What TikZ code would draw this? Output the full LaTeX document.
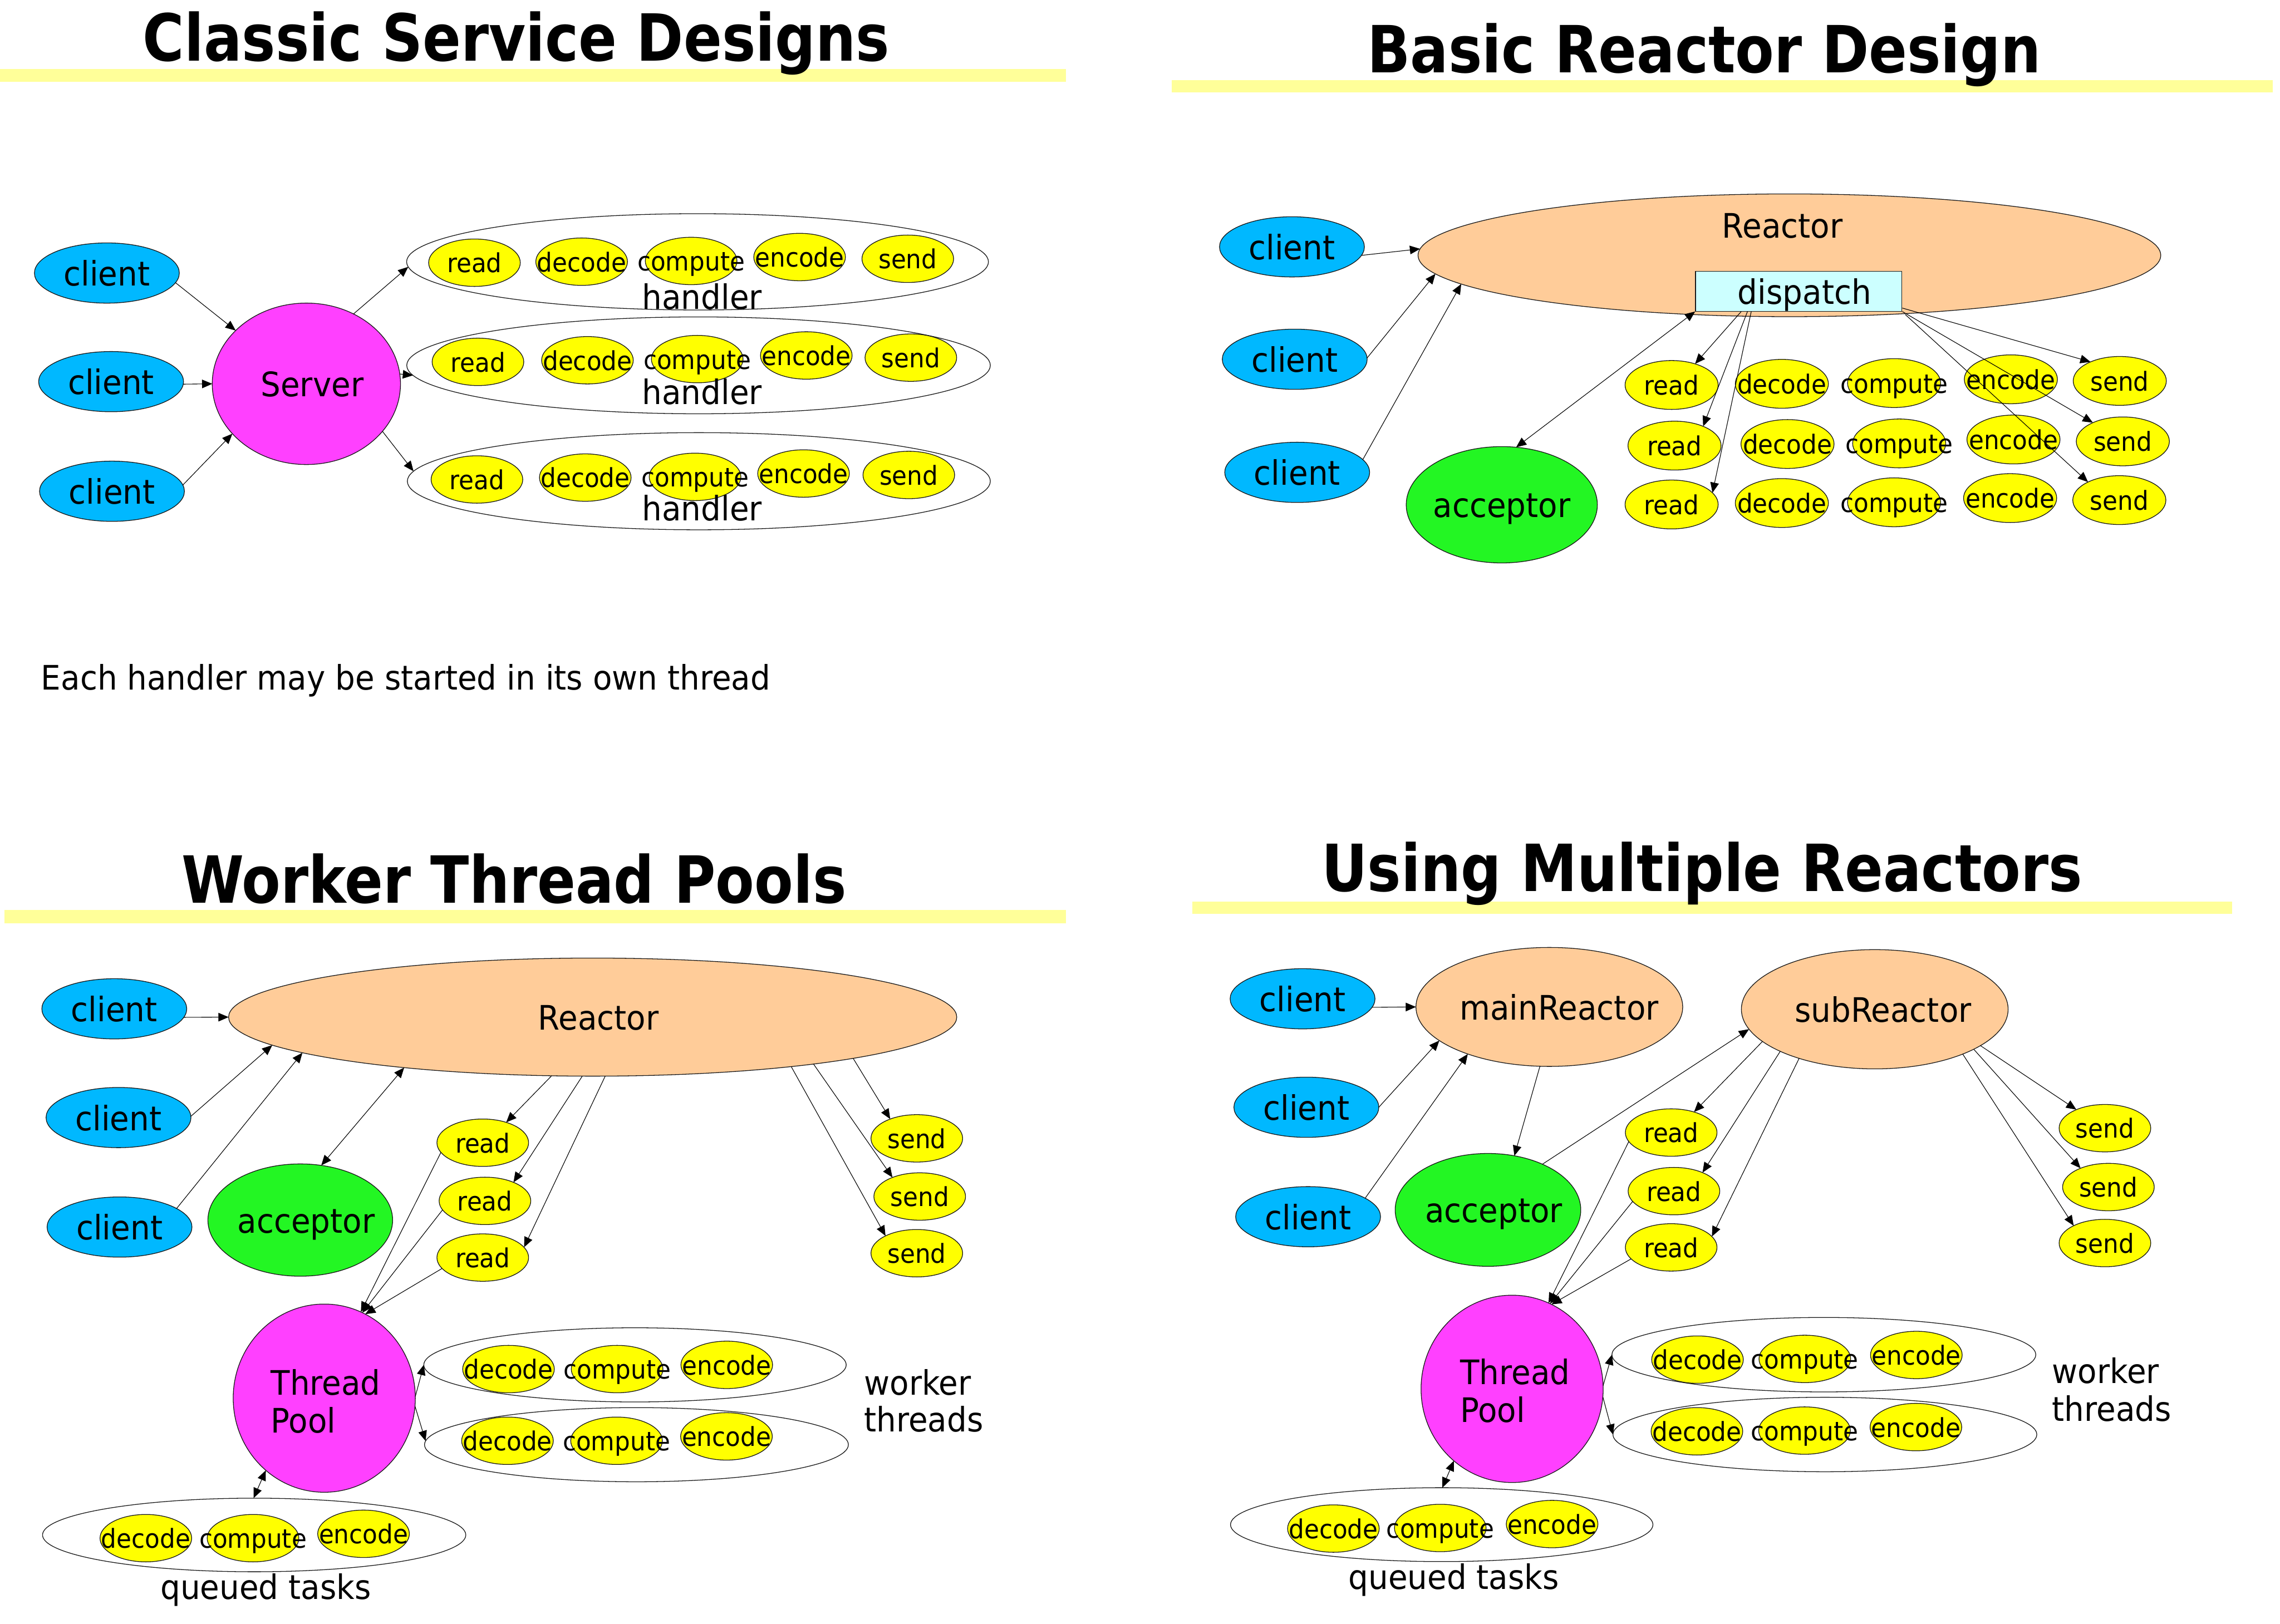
\documentclass[tikz,border=0pt]{standalone}
\usepackage{fontspec}
\setmainfont[FakeStretch=0.93]{DejaVu Sans}
\newfontfamily\titlefont[FakeStretch=0.87]{DejaVu Sans}
\usetikzlibrary{shapes.geometric,arrows.meta,calc}
\definecolor{cblue}{HTML}{00B8FF}
\definecolor{cmag}{HTML}{FF40FF}
\definecolor{cpeach}{HTML}{FFCC99}
\definecolor{cgreen}{HTML}{23F623}
\definecolor{ccyan}{HTML}{CCFFFF}
\definecolor{cbar}{HTML}{FFFF99}
\definecolor{cyel}{HTML}{FFFF00}
\newcommand{\bigtxt}{\fontsize{16.5pt}{19pt}\selectfont}
\newcommand{\smalltxt}{\fontsize{12.8pt}{15pt}\selectfont}
\newcommand{\ttltxt}{\fontsize{31.8pt}{36pt}\selectfont\titlefont\bfseries}
\newcommand{\ctxt}[1]{\makebox[0pt]{#1}}
\begin{document}
\begin{tikzpicture}[x=0.025cm,y=-0.025cm,
 el/.style 2 args={ellipse, draw=black!90, line width=0.35pt, minimum width=#1*0.05cm, minimum height=#2*0.05cm, inner sep=0pt, outer sep=0pt},
 cli/.style={el={49.8}{20.7}, fill=cblue, font=\bigtxt, text height=12.5pt, text depth=0pt},
 bignode/.style={fill=#1, font=\bigtxt, text height=12.5pt, text depth=0pt},
 yel/.style={el={31.5}{16.3}, fill=cyel, font=\smalltxt, text height=9.7pt, text depth=0pt},
 yelb/.style={el={32}{16.8}, fill=cyel, font=\smalltxt, text height=9.7pt, text depth=0pt},
 grp/.style 2 args={el={#1}{#2}, fill=white},
 big/.style={font=\bigtxt, inner sep=0pt},
 ttl/.style={font=\ttltxt, inner sep=0pt, anchor=base},
 arr/.style={-{Triangle[length=5pt,width=4.2pt]}, line width=0.3pt},
 darr/.style={{Triangle[length=5pt,width=4.2pt]}-{Triangle[length=5pt,width=4.2pt]}, line width=0.3pt},
]
\useasboundingbox (0,0) rectangle (1568,1117);
\fill[white] (0,0) rectangle (1568,1117);

% ================= Q1: Classic Service Designs =================
\fill[cbar] (0,47.3) rectangle (733,56.4);
\node[ttl] (t1) at (355,42) {Classic Service Designs};

\node[cli] (qa1) at (73.5,187.8) {\ctxt{client}};
\node[cli] (qa2) at (76.4,262.5) {\ctxt{client}};
\node[cli] (qa3) at (77,337.9) {\ctxt{client}};
\node[el={64.7}{55.5}, bignode=cmag] (srv) at (210.7,264) {\ctxt{\hspace{0.2cm}Server}};

\node[grp={200}{33.1}] (h1) at (479.7,180.1) {};
\node[grp={200.6}{33.3}] (h2) at (480.4,251.3) {};
\node[grp={200.4}{33.4}] (h3) at (480.6,331) {};

\node[yel] (a1r) at (326.3,180.7) {\ctxt{read}};
\node[yel] (a1d) at (400,180) {\ctxt{decode}};
\node[yel] (a1c) at (475.3,179.5) {\ctxt{compute}};
\node[yel] (a1e) at (549.9,176.8) {\ctxt{encode}};
\node[yel] (a1s) at (624.3,178) {\ctxt{send}};
\node[yel] (a2r) at (328.7,248.9) {\ctxt{read}};
\node[yel] (a2d) at (404,247.8) {\ctxt{decode}};
\node[yel] (a2c) at (479.5,247) {\ctxt{compute}};
\node[yel] (a2e) at (554.5,244.5) {\ctxt{encode}};
\node[yel] (a2s) at (626.4,246) {\ctxt{send}};
\node[yel] (a3r) at (328,329.8) {\ctxt{read}};
\node[yel] (a3d) at (402.5,328.5) {\ctxt{decode}};
\node[yel] (a3c) at (478,328) {\ctxt{compute}};
\node[yel] (a3e) at (552.6,325.7) {\ctxt{encode}};
\node[yel] (a3s) at (625,326.7) {\ctxt{send}};

\node[big, anchor=base] (hl1) at (482.8,212.7) {handler};
\node[big, anchor=base] (hl2) at (482.8,278) {handler};
\node[big, anchor=base] (hl3) at (482.8,358.3) {handler};

\node[big, anchor=base west] (note) at (28,474.4) {Each handler may be started in its own thread};

\draw[arr] (qa1.-8) -- (srv.143.6);
\draw[arr] (qa2.-2) -- (srv.180);
\draw[arr] (qa3.5.8) -- (srv.-146.8);
\draw[arr] (srv.56.9) -- (h1.-179.3);
\draw[arr] (srv.6.5) -- (h2.-178.4);
\draw[arr] (srv.-32.3) -- (h3.178.4);

% ================= Q2: Basic Reactor Design =================
\fill[cbar] (806,55) rectangle (1563,63.5);
\node[ttl] (t2) at (1172,50) {Basic Reactor Design};

\node[cli] (qb1) at (888.5,169.8) {\ctxt{client}};
\node[cli] (qb2) at (890.4,247.1) {\ctxt{client}};
\node[cli] (qb3) at (892.1,324.9) {\ctxt{client}};
\node[el={255.3}{42.2}, fill=cpeach] (rb) at (1230.6,175.6) {};
\node[big, anchor=base] (rbl) at (1225.8,163.7) {Reactor};
\node[draw=black!90, line width=0.35pt, fill=ccyan, minimum width=142*0.025cm, minimum height=27.3*0.025cm, inner sep=0pt, font=\bigtxt, text height=12.5pt, text depth=0pt] (disp) at (1237,200.4) {\ctxt{\hspace{0.2cm}dispatch}};
\node[el={65.7}{40}, bignode=cgreen] (accb) at (1032.8,347.2) {\ctxt{acceptor}};

\node[yelb] (b1r) at (1149.6,264.8) {\ctxt{read}};
\node[yelb] (b1d) at (1225.4,264) {\ctxt{decode}};
\node[yelb] (b1c) at (1302.6,263.5) {\ctxt{compute}};
\node[yelb] (b1e) at (1382.9,260.9) {\ctxt{encode}};
\node[yelb] (b1s) at (1457.8,262) {\ctxt{send}};
\node[yelb] (b2r) at (1151.6,306.5) {\ctxt{read}};
\node[yelb] (b2d) at (1229.3,305.4) {\ctxt{decode}};
\node[yelb] (b2c) at (1306.1,305) {\ctxt{compute}};
\node[yelb] (b2e) at (1384.7,302.3) {\ctxt{encode}};
\node[yelb] (b2s) at (1459.9,303.6) {\ctxt{send}};
\node[yelb] (b3r) at (1149.6,347) {\ctxt{read}};
\node[yelb] (b3d) at (1225.4,346) {\ctxt{decode}};
\node[yelb] (b3c) at (1302.6,345.5) {\ctxt{compute}};
\node[yelb] (b3e) at (1382.4,342.6) {\ctxt{encode}};
\node[yelb] (b3s) at (1457.5,344) {\ctxt{send}};

\draw[arr] (qb1.-7.4) -- (rb.179);
\draw[arr] (qb2.1) -- (rb.-177.2);
\draw[arr] (qb3.11.9) -- (rb.-175.6);
\draw[darr] (disp.south west) -- (accb.76.8);
\draw[arr] ($(disp.south west)+(31.7,0)$) -- (b1r.42.2);
\draw[arr] ($(disp.south west)+(36,0)$) -- (b2r.34.8);
\draw[arr] ($(disp.south west)+(38.6,0)$) -- (b3r.16.7);
\draw[arr] ($(disp.south east)+(0,-2.4)$) -- (b1s.147.3);
\draw[arr] (disp.south east) -- (b2s.148.1);
\draw[arr] ($(disp.south east)+(2,2)$) -- (b3s.150.7);

% ================= Q3: Worker Thread Pools =================
\fill[cbar] (3,626) rectangle (733,635);
\node[ttl] (t3) at (353.5,621) {Worker Thread Pools};

\node[cli] (qc1) at (78.6,693.9) {\ctxt{client}};
\node[cli] (qc2) at (81.5,768.7) {\ctxt{client}};
\node[cli] (qc3) at (82.2,844) {\ctxt{client}};
\node[el={250.3}{40.6}, bignode=cpeach] (rc) at (407.6,699.6) {\ctxt{\hspace{0.2cm}Reactor}};
\node[el={63.5}{38.6}, bignode=cgreen] (accc) at (206.5,839.2) {\ctxt{\hspace{0.2cm}acceptor}};

\node[yel] (cr1) at (332,786) {\ctxt{read}};
\node[yel] (cr2) at (333.5,826) {\ctxt{read}};
\node[yel] (cr3) at (332,865) {\ctxt{read}};
\node[yel] (cs1) at (630.5,783) {\ctxt{send}};
\node[yel] (cs2) at (632.5,823) {\ctxt{send}};
\node[yel] (cs3) at (630.5,862) {\ctxt{send}};

\node[el={62.6}{64.7}, fill=cmag] (tpc) at (223,961.7) {};
\node[big, anchor=base west] (tpc1) at (186,959.5) {Thread};
\node[big, anchor=base west] (tpc2) at (186,985.5) {Pool};

\node[grp={145.2}{25.5}] (wc1) at (436.7,938.8) {};
\node[grp={145.7}{25.5}] (wc2) at (437.7,993.7) {};
\node[yel] (cw1d) at (349.7,941.7) {\ctxt{decode}};
\node[yel] (cw1c) at (424.4,941.7) {\ctxt{compute}};
\node[yel] (cw1e) at (499.8,938.8) {\ctxt{encode}};
\node[yel] (cw2d) at (349,991) {\ctxt{decode}};
\node[yel] (cw2c) at (424,991) {\ctxt{compute}};
\node[yel] (cw2e) at (499.6,988) {\ctxt{encode}};
\node[big, anchor=base west] (wtc1) at (594,959.5) {worker};
\node[big, anchor=base west] (wtc2) at (594,984.7) {threads};

\node[grp={145.5}{25.3}] (qc) at (174.8,1055.8) {};
\node[yel] (cqd) at (100.3,1058) {\ctxt{decode}};
\node[yel] (cqc) at (174,1058) {\ctxt{compute}};
\node[yel] (cqe) at (250,1055) {\ctxt{encode}};
\node[big, anchor=base] (qtc) at (182.8,1100) {queued tasks};

\draw[arr] (qc1.-7.8) -- (rc.180);
\draw[arr] (qc2.1) -- (rc.-175.7);
\draw[arr] (qc3.18.8) -- (rc.-173.3);
\draw[darr] (accc.69.7) -- (rc.-165.8);
\draw[arr] (rc.-125.3) -- (cr1.41.6);
\draw[arr] (rc.-100) -- (cr2.33);
\draw[arr] (rc.-78.8) -- (cr3.14.4);
\draw[arr] (rc.-9.2) -- (cs1.144.9);
\draw[arr] (rc.-12.2) -- (cs2.145.5);
\draw[arr] (rc.-14.2) -- (cs3.151.3);
\draw[arr] (cr1.-167) -- (tpc.67.6);
\draw[arr] (cr2.-168.3) -- (tpc.66);
\draw[arr] (cr3.-165.2) -- (tpc.64.8);
\draw[arr] (tpc.1.5) -- (wc1.west);
\draw[arr] (tpc.-5) -- (wc2.179.3);
\draw[darr] (tpc.-129.3) -- (qc.91);

% ================= Q4: Using Multiple Reactors =================
\fill[cbar] (820,620) rectangle (1535,628.5);
\node[ttl] (t4) at (1170.5,613) {Using Multiple Reactors};

\node[cli] (qd1) at (895.8,687) {\ctxt{client}};
\node[cli] (qd2) at (898.4,761.6) {\ctxt{client}};
\node[cli] (qd3) at (899.6,836.9) {\ctxt{client}};
\node[el={91.7}{40.9}, bignode=cpeach] (mr) at (1065.5,692.6) {\ctxt{\hspace{0.335cm}mainReactor}};
\node[el={91.7}{41}, bignode=cpeach] (sr) at (1289.3,694.2) {\ctxt{\hspace{0.285cm}subReactor}};
\node[el={63.8}{38.8}, bignode=cgreen] (accd) at (1023.3,832.2) {\ctxt{\hspace{0.2cm}acceptor}};

\node[yel] (dr1) at (1149.3,779) {\ctxt{read}};
\node[yel] (dr2) at (1151.2,819.3) {\ctxt{read}};
\node[yel] (dr3) at (1149.3,858) {\ctxt{read}};
\node[yel] (ds1) at (1447.6,776) {\ctxt{send}};
\node[yel] (ds2) at (1450,816.5) {\ctxt{send}};
\node[yel] (ds3) at (1447.6,855) {\ctxt{send}};

\node[el={62.6}{64.4}, fill=cmag] (tpd) at (1039.9,955.3) {};
\node[big, anchor=base west] (tpd1) at (1003.9,952.3) {Thread};
\node[big, anchor=base west] (tpd2) at (1003.9,978.3) {Pool};

\node[grp={145.7}{25.6}] (wd1) at (1254.3,931.8) {};
\node[grp={145.7}{25.6}] (wd2) at (1255,986.7) {};
\node[yel] (dw1d) at (1167.4,935.2) {\ctxt{decode}};
\node[yel] (dw1c) at (1241.2,934.7) {\ctxt{compute}};
\node[yel] (dw1e) at (1317.9,932) {\ctxt{encode}};
\node[yel] (dw2d) at (1167,984.5) {\ctxt{decode}};
\node[yel] (dw2c) at (1241,984) {\ctxt{compute}};
\node[yel] (dw2e) at (1317.6,981.6) {\ctxt{encode}};
\node[big, anchor=base west] (wtd1) at (1411,951.6) {worker};
\node[big, anchor=base west] (wtd2) at (1411,977.4) {threads};

\node[grp={145.2}{25.4}] (qd) at (991.5,1048.7) {};
\node[yel] (dqd) at (917,1051.4) {\ctxt{decode}};
\node[yel] (dqc) at (990.5,1051) {\ctxt{compute}};
\node[yel] (dqe) at (1067.4,1048.3) {\ctxt{encode}};
\node[big, anchor=base] (qtd) at (999.8,1093.3) {queued tasks};

\draw[arr] (qd1.-7.4) -- (mr.180);
\draw[arr] (qd2.0) -- (mr.-163.5);
\draw[arr] (qd3.18.7) -- (mr.-150.6);
\draw[arr] (mr.-99.5) -- (accd.64.3);
\draw[arr] (accd.40.7) -- (sr.-171.1);
\draw[arr] (sr.-164.2) -- (dr1.42.7);
\draw[arr] (sr.-156.6) -- (dr2.33.4);
\draw[arr] (sr.-147.9) -- (dr3.15.8);
\draw[arr] (sr.-19.5) -- (ds1.147);
\draw[arr] (sr.-22.9) -- (ds2.146.8);
\draw[arr] (sr.-27.5) -- (ds3.151.2);
\draw[arr] (dr1.-168.2) -- (tpd.67.7);
\draw[arr] (dr2.-166.4) -- (tpd.66.6);
\draw[arr] (dr3.-164.6) -- (tpd.65.7);
\draw[arr] (tpd.2.7) -- (wd1.west);
\draw[arr] (tpd.-5.6) -- (wd2.west);
\draw[darr] (tpd.-129.8) -- (qd.89);
\end{tikzpicture}
\end{document}
